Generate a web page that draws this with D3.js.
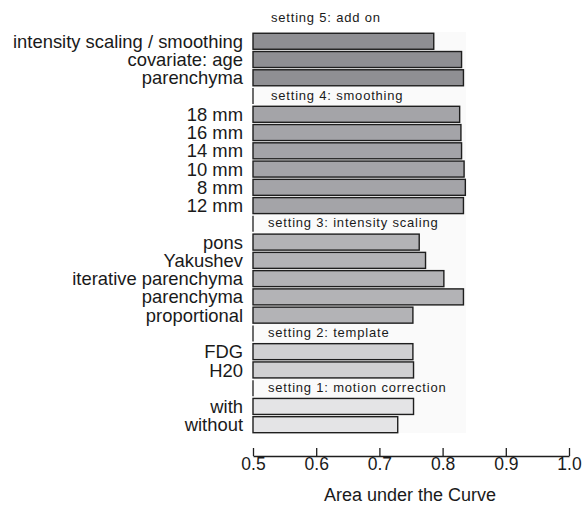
<!DOCTYPE html>
<html>
<head>
<meta charset="utf-8">
<script src="https://cdn.jsdelivr.net/npm/d3@7"></script>
<style>
  body { margin: 0; background: #fff; }
  svg { display: block; font-family: "Liberation Sans", Arial, Helvetica, sans-serif; }
</style>
</head>
<body>
<div id="chart"></div>
<script>
// settings, top to bottom as drawn
var groupTitles = ["setting 5: add on", "setting 4: smoothing", "setting 3: intensity scaling",
                   "setting 2: template", "setting 1: motion correction"];
var set5Labels = ["intensity scaling / smoothing", "covariate: age", "parenchyma"];
var set5Values = [0.786, 0.830, 0.833];
var set4Labels = ["18 mm", "16 mm", "14 mm", "10 mm", "8 mm", "12 mm"];
var set4Values = [0.827, 0.829, 0.830, 0.834, 0.836, 0.833];
var set3Labels = ["pons", "Yakushev", "iterative parenchyma", "parenchyma", "proportional"];
var set3Values = [0.763, 0.773, 0.802, 0.833, 0.753];
var set2Labels = ["FDG", "H20"];
var set2Values = [0.753, 0.754];
var set1Labels = ["with", "without"];
var set1Values = [0.754, 0.729];
var xTicks = [0.5, 0.6, 0.7, 0.8, 0.9, 1.0];
var xTitle = "Area under the Curve";

var groupFills = ["#8f8f93", "#a4a4a8", "#b3b3b6", "#d0d0d2", "#e4e4e6"];

var W = 584, H = 509;
var svg = d3.select("#chart").append("svg")
    .attr("width", W)
    .attr("height", H);

// flatten into rows (header row followed by its bars)
var groups = [
  [set5Labels, set5Values], [set4Labels, set4Values], [set3Labels, set3Values],
  [set2Labels, set2Values], [set1Labels, set1Values]
];
var rows = [];
groups.forEach(function(g, gi) {
  rows.push({ id: "h" + gi, header: true, group: gi, label: groupTitles[gi] });
  g[0].forEach(function(lab, i) {
    rows.push({ id: "r" + gi + "_" + i, header: false, group: gi, label: lab, value: g[1][i] });
  });
});

var x = d3.scaleLinear().domain([0.5, 1.0]).range([253, 569]);
var y = d3.scaleBand()
    .domain(rows.map(function(d) { return d.id; }))
    .range([15, 432.7])
    .paddingInner(0.124)
    .paddingOuter(0);

// plot panel
svg.append("rect")
    .attr("x", 253).attr("y", 32)
    .attr("width", 213).attr("height", 401)
    .attr("fill", "#fafafa");

var bars = rows.filter(function(d) { return !d.header; });
var heads = rows.filter(function(d) { return d.header; });

svg.selectAll("rect.bar").data(bars).enter().append("rect")
    .attr("class", "bar")
    .attr("x", x(0.5))
    .attr("y", function(d) { return y(d.id); })
    .attr("width", function(d) { return x(d.value) - x(0.5); })
    .attr("height", y.bandwidth())
    .attr("fill", function(d) { return groupFills[d.group]; })
    .attr("stroke", "#1e1e1e")
    .attr("stroke-width", 1.4);

svg.selectAll("text.lab").data(bars).enter().append("text")
    .attr("class", "lab")
    .attr("x", 243)
    .attr("y", function(d) { return y(d.id) + y.bandwidth() / 2 + 6.6; })
    .attr("text-anchor", "end")
    .attr("font-size", 18.4)
    .attr("fill", "#1a1a1a")
    .text(function(d) { return d.label; });

// group headers: small tick at the axis start + title
svg.selectAll("line.hmark").data(heads.filter(function(d) { return d.group > 0; })).enter().append("line")
    .attr("class", "hmark")
    .attr("x1", x(0.5)).attr("x2", x(0.5))
    .attr("y1", function(d) { return y(d.id); })
    .attr("y2", function(d) { return y(d.id) + y.bandwidth(); })
    .attr("stroke", "#1e1e1e")
    .attr("stroke-width", 1.3);

svg.selectAll("text.head").data(heads).enter().append("text")
    .attr("class", "head")
    .attr("x", function(d) { return d.group < 2 ? 271 : 268; })
    .attr("y", function(d) { return y(d.id) + (d.group === 0 ? 7 : 11.5); })
    .attr("font-size", 13)
    .attr("letter-spacing", 0.8)
    .attr("fill", "#1a1a1a")
    .text(function(d) { return d.label; });

// x axis, ticks pointing up
var axis = svg.append("g")
    .attr("transform", "translate(0,456)")
    .call(d3.axisBottom(x).tickValues(xTicks).tickSizeInner(-8).tickSizeOuter(0).tickPadding(0)
      .tickFormat(d3.format(".1f")));
axis.select(".domain").attr("stroke", "#1e1e1e").attr("stroke-width", 1.3);
axis.selectAll(".tick line").attr("stroke", "#1e1e1e").attr("stroke-width", 1.3);
axis.selectAll(".tick text")
    .attr("y", 14)
    .attr("dy", 0)
    .attr("font-size", 17.5)
    .attr("font-family", "Liberation Sans, Arial, sans-serif")
    .attr("fill", "#1a1a1a");

svg.append("text")
    .attr("x", (x(0.5) + x(1.0)) / 2 - 1)
    .attr("y", 501)
    .attr("text-anchor", "middle")
    .attr("font-size", 18)
    .attr("fill", "#1a1a1a")
    .text(xTitle);
</script>
</body>
</html>
